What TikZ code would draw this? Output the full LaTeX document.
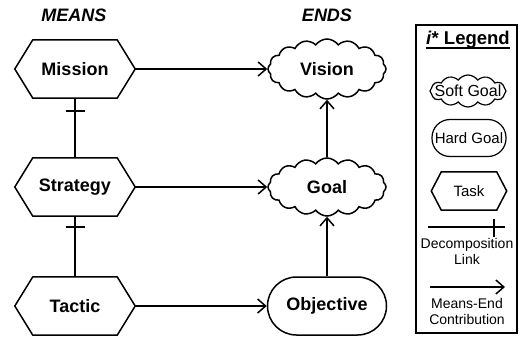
\documentclass[tikz,border=0pt]{standalone}
\usepackage{fontspec}
\setmainfont{Liberation Sans}
\usetikzlibrary{shapes.symbols,arrows.meta}

\tikzset{
  lw/.style={line width=1.5pt},
  big/.style={font=\fontsize{18}{21}\selectfont\bfseries},
  small/.style={font=\fontsize{14}{16}\selectfont},
  shapelabel/.style={font=\fontsize{15}{17}\selectfont},
  taskbox/.style={inner sep=0pt, minimum width=120pt, minimum height=58pt, big},
  softgoal/.style={cloud, cloud puffs=16, cloud puff arc=110, cloud ignores aspect,
    draw, lw, inner sep=0pt, minimum width=118pt, minimum height=60pt, big},
  hardgoal/.style={rectangle, rounded corners=29pt, draw, lw, inner sep=0pt,
    minimum width=119pt, minimum height=58pt, big},
  meansend/.style={-{Straight Barb[length=8pt,width=14pt]}, lw},
  decomp/.style={lw},
  heading/.style={font=\fontsize{18}{21}\selectfont\bfseries\itshape},
}

% hexagonal outline around a (borderless) rectangular node
\newcommand{\hexagonaround}[2]{%
  \draw[lw] ([xshift=#2]#1.north west) -- ([xshift=-#2]#1.north east) -- (#1.east)
    -- ([xshift=-#2]#1.south east) -- ([xshift=#2]#1.south west) -- (#1.west) -- cycle;}

\begin{document}
\begin{tikzpicture}[x=1pt,y=-1pt]
  \useasboundingbox[fill=white] (0,0) rectangle (520,338);

  % column headings
  \node[heading] (means) at (74,15) {MEANS};
  \node[heading] (ends) at (327,15) {ENDS};

  % means: tasks
  \node[taskbox] (mission) at (75,69) {Mission};
  \node[taskbox] (strategy) at (75,187) {Strategy};
  \node[taskbox] (tactic) at (75,306) {Tactic};
  \hexagonaround{mission}{18pt}
  \hexagonaround{strategy}{18pt}
  \hexagonaround{tactic}{18pt}

  % ends: goals
  \node[softgoal] (vision) at (327,69) {Vision};
  \node[softgoal, minimum height=58pt] (goal) at (327,187) {Goal};
  \node[hardgoal] (objective) at (327,306) {Objective};

  % means-end contributions
  \draw[meansend] (mission.east) -- (vision.west);
  \draw[meansend] (strategy.east) -- (goal.west);
  \draw[meansend] (tactic.east) -- (objective.west);
  \draw[meansend] (objective.north) -- (goal.south);
  \draw[meansend] (goal.north) -- (vision.south);

  % decomposition links
  \draw[decomp] (mission.south) -- (strategy.north);
  \draw[decomp] ([xshift=-9.5pt,yshift=-13pt]mission.south) -- ([xshift=9.5pt,yshift=-13pt]mission.south);
  \draw[decomp] (strategy.south) -- (tactic.north);
  \draw[decomp] ([xshift=-9.5pt,yshift=-11pt]strategy.south) -- ([xshift=9.5pt,yshift=-11pt]strategy.south);

  % legend
  \draw[lw] (416,25) rectangle (517,333);
  \node[inner sep=0pt, font=\fontsize{18.5}{21}\selectfont\bfseries] (ltitle) at (468,40) {\textit{i}* Legend};
  \coordinate (ul1) at ([yshift=-3pt]ltitle.base west);
  \coordinate (ul2) at ([yshift=-3pt]ltitle.base east);
  \draw[line width=1.6pt] (ul1) -- (ul2);

  \node[softgoal, cloud puffs=12, minimum width=76pt, minimum height=32pt, line width=1.2pt] (lsoft) at (468,91) {};
  \node[font=\fontsize{16}{18}\selectfont, inner sep=0pt] (lsofttext) at (lsoft.center) {Soft Goal};
  \node[hardgoal, rounded corners=18pt, minimum width=74pt, minimum height=37pt, shapelabel, line width=1.2pt] (lhard) at (469,138) {Hard Goal};
  \node[inner sep=0pt, minimum width=75pt, minimum height=38pt, shapelabel] (ltask) at (469,191) {Task};
  \hexagonaround{ltask}{10pt}

  \coordinate (da) at (428,227);
  \coordinate (db) at (505,227);
  \coordinate (dt) at (494,219);
  \coordinate (du) at (494,237);
  \draw[decomp] (da) -- (db);
  \draw[decomp] (dt) -- (du);
  \node[small, align=center] (ldecomp) at (467,251) {Decomposition\\Link};

  \coordinate (ma) at (430,287);
  \coordinate (mb) at (505,287);
  \draw[meansend] (ma) -- (mb);
  \node[small, align=center] (lmeans) at (467,311) {Means-End\\Contribution};
\end{tikzpicture}
\end{document}
